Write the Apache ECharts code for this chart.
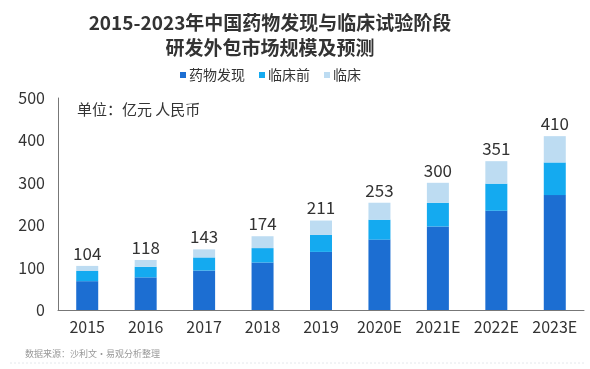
<!DOCTYPE html>
<html><head><meta charset="utf-8">
<script src="https://cdn.jsdelivr.net/npm/echarts@6/dist/echarts.min.js"></script>
<style>html,body{margin:0;padding:0;background:#fff}#c{width:590px;height:369px}</style>
</head><body><div id="c"></div>
<script>
const categories = ['2015','2016','2017','2018','2019','2020E','2021E','2022E','2023E'];
const drugDiscovery = [68, 77, 93, 112, 137, 166, 197, 234, 271];
const preclinical = [24, 25, 31, 34, 40, 47, 56, 64, 77];
const clinical = [12, 16, 19, 28, 34, 40, 47, 53, 62];
const totals = [104, 118, 143, 174, 211, 253, 300, 351, 410];
const yTicks = [0, 100, 200, 300, 400, 500];

const font = '"Noto Sans CJK SC", "Noto Sans", sans-serif';
const chart = echarts.init(document.getElementById('c'));
chart.setOption({
  backgroundColor: '#fff',
  title: {
    text: '2015-2023年中国药物发现与临床试验阶段\n研发外包市场规模及预测',
    left: 265, textAlign: 'center', top: 5,
    textStyle: {fontFamily: font, fontSize: 19, fontWeight: 'bold', color: '#333', lineHeight: 25}
  },
  legend: {
    top: 63, left: 175, itemWidth: 6, itemHeight: 6, itemGap: 14, icon: 'rect',
    textStyle: {fontFamily: font, fontSize: 14, color: '#333', padding: [0,0,0,-2]},
    data: ['药物发现', '临床前', '临床']
  },
  grid: {left: 58, right: 6, top: 98, bottom: 59},
  xAxis: {
    type: 'category', data: categories,
    axisLine: {lineStyle: {color: '#777', width: 1}},
    axisTick: {show: false},
    axisLabel: {fontFamily: font, fontSize: 16, color: '#333', margin: 9}
  },
  yAxis: {
    type: 'value', min: yTicks[0], max: yTicks[yTicks.length-1], interval: 100,
    axisLine: {show: true, lineStyle: {color: '#777', width: 1}},
    axisTick: {show: false},
    splitLine: {show: false},
    axisLabel: {fontFamily: font, fontSize: 16, color: '#333', margin: 13}
  },
  graphic: [
    {type: 'text', left: 77, top: 102, style: {text: '单位：亿元 人民币', fontFamily: font, fontSize: 15, fill: '#333'}},
    {type: 'text', left: 25, top: 349, style: {text: '数据来源：沙利文·易观分析整理', fontFamily: font, fontSize: 9, fill: '#999'}},
    {type: 'line', shape: {x1: 10, y1: 363, x2: 585, y2: 363}, style: {stroke: '#e4e8ec', lineWidth: 1, lineDash: [2, 2]}}
  ],
  series: [
    {name: '药物发现', type: 'bar', stack: 's', barWidth: 22, data: drugDiscovery, itemStyle: {color: '#1c6ed2'}},
    {name: '临床前', type: 'bar', stack: 's', data: preclinical, itemStyle: {color: '#14aaf0'}},
    {name: '临床', type: 'bar', stack: 's', data: clinical, itemStyle: {color: '#bddcf2'},
      label: {show: true, position: 'top', distance: 4, fontFamily: font, fontSize: 17, color: '#333',
        formatter: p => String(totals[p.dataIndex])}}
  ]
});
</script></body></html>
